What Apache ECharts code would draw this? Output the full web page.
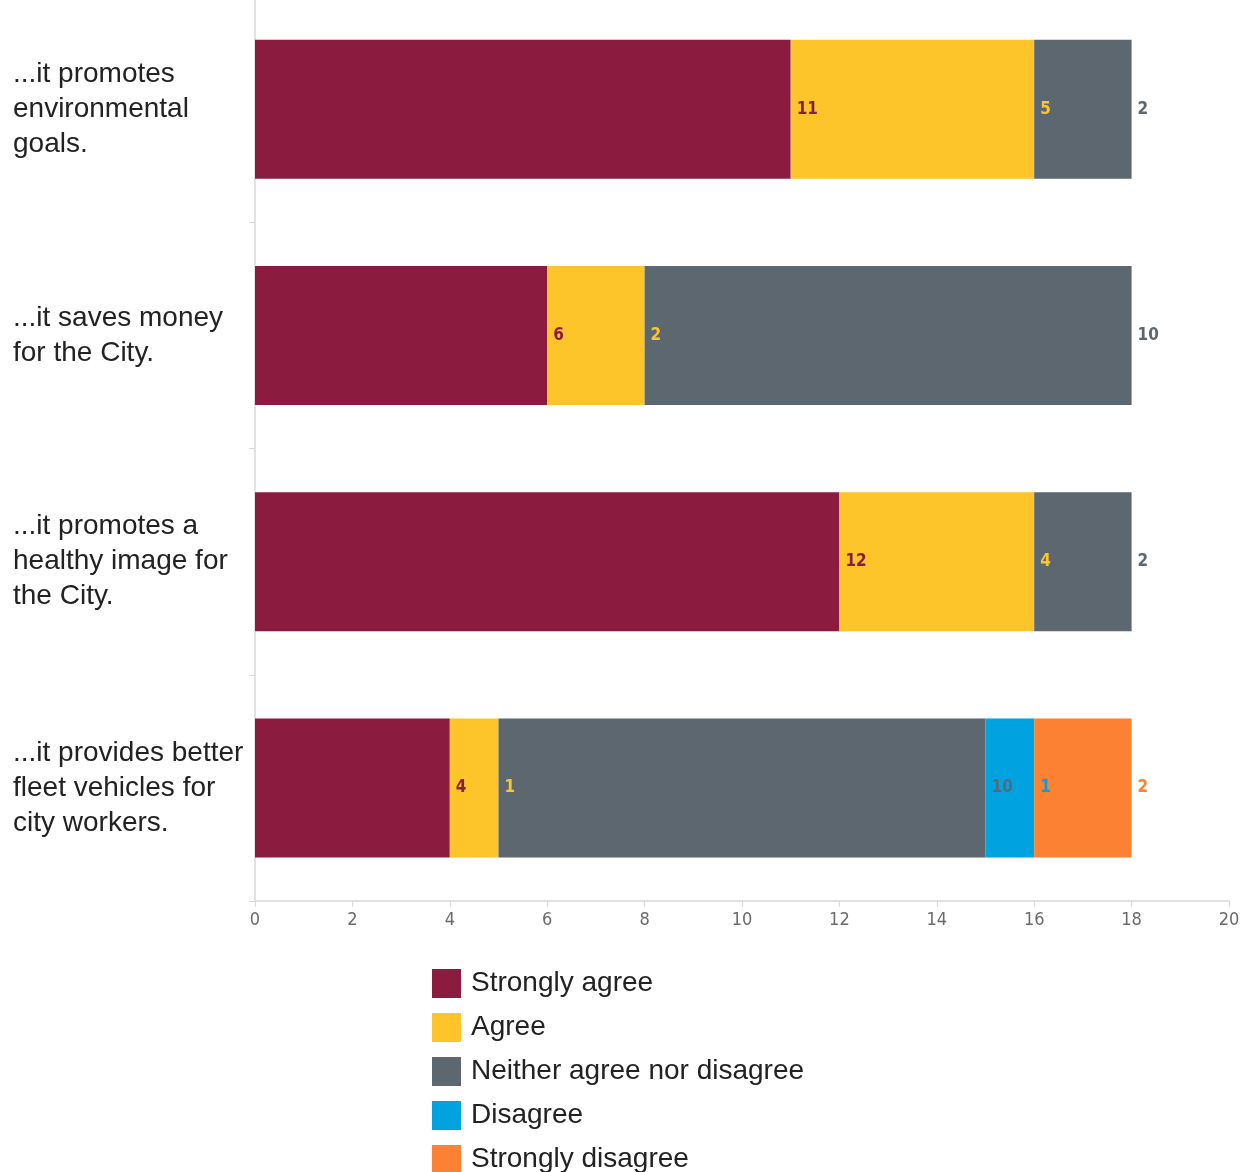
<!DOCTYPE html>
<html><head><meta charset="utf-8">
<script src="https://cdn.jsdelivr.net/npm/echarts@6/dist/echarts.min.js"></script>
<style>html,body{margin:0;padding:0;background:#fff}#c{width:1243px;height:1172px}</style>
</head><body><div id="c"></div>
<script>
const categories = ["...it promotes\nenvironmental\ngoals.", "...it saves money\nfor the City.", "...it promotes a\nhealthy image for\nthe City.", "...it provides better\nfleet vehicles for\ncity workers."];
const seriesNames = ["Strongly agree", "Agree", "Neither agree nor disagree", "Disagree", "Strongly disagree"];
const stronglyAgree = [11, 6, 12, 4];
const agree = [5, 2, 4, 1];
const neither = [2, 10, 2, 10];
const disagree = [0, 0, 0, 1];
const stronglyDisagree = [0, 0, 0, 2];
const xTicks = [0, 2, 4, 6, 8, 10, 12, 14, 16, 18, 20];
const colors = ["#8b1c3f", "#fdc52a", "#5d6770", "#00a3e0", "#fd8133"];
const values = [stronglyAgree, agree, neither, disagree, stronglyDisagree];

const chart = echarts.init(document.getElementById('c'));
chart.setOption({
  animation: false,
  grid: {left: 255, right: 14, top: -4, bottom: 271, containLabel: false, outerBoundsMode: 'none'},
  xAxis: {
    type: 'value', min: xTicks[0], max: xTicks[xTicks.length-1], interval: 2,
    axisLine: {show: true, lineStyle: {color: '#d9d9d9', width: 1.5}},
    axisTick: {show: true, length: 6, lineStyle: {color: '#d9d9d9'}},
    splitLine: {show: false},
    axisLabel: {color: '#6a6a6a', fontSize: 18, fontFamily: 'Liberation Sans Narrow, DejaVu Sans Condensed, sans-serif', margin: 10}
  },
  yAxis: {
    type: 'category', data: categories, inverse: true,
    axisLine: {show: true, lineStyle: {color: '#d9d9d9', width: 1.5}},
    axisTick: {show: true, length: 6, lineStyle: {color: '#d9d9d9'}},
    axisLabel: {align: 'left', margin: 242, fontSize: 28, lineHeight: 35, color: '#222', fontFamily: 'Liberation Sans, Arial, sans-serif'}
  },
  legend: {
    orient: 'vertical', left: 427, top: 964, height: 240, itemWidth: 29, itemHeight: 29, itemGap: 15,
    icon: 'rect', data: seriesNames,
    textStyle: {fontSize: 28, color: '#222', fontFamily: 'Liberation Sans, Arial, sans-serif', padding: [0,0,0,5]}
  },
  series: seriesNames.map((n, i) => ({
    name: n, type: 'bar', stack: 'total', barWidth: 139,
    itemStyle: {color: colors[i]},
    data: values[i],
    label: {
      show: true, position: 'right', distance: 6, color: colors[i], fontWeight: 'bold',
      fontSize: 17, fontFamily: 'Liberation Sans Narrow, DejaVu Sans Condensed, sans-serif',
      formatter: p => p.value ? String(p.value) : ''
    }
  }))
});
</script></body></html>
